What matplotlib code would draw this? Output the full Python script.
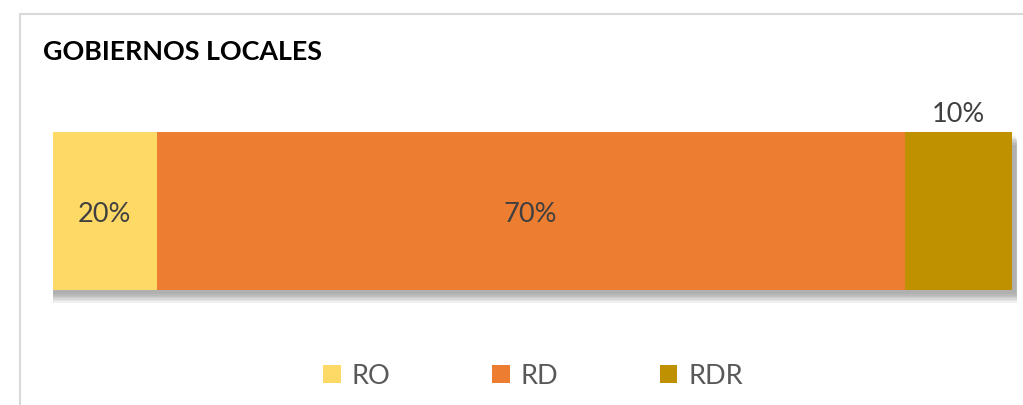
import matplotlib
matplotlib.use("Agg")
import matplotlib.pyplot as plt
import matplotlib.patheffects as pe
from matplotlib.patches import Rectangle, Patch

title = "GOBIERNOS LOCALES"
series = ["RO", "RD", "RDR"]
values = [20, 70, 10]
labels = ["20%", "70%", "10%"]
colors = ["#FFD966", "#ED7D31", "#BF9000"]
axis_min, axis_max = 10.3, 100.5

W, H = 1023, 405
fig = plt.figure(figsize=(W / 100, H / 100), dpi=100)
plt.rcParams['font.family'] = ['Lato', 'DejaVu Sans']

# chart border (goes off the right/bottom edge)
fig.patches.append(Rectangle((20 / W, -0.1), 1.1, 1 - 14 / H + 0.1, transform=fig.transFigure,
                             fill=False, edgecolor="#d9d9d9", linewidth=1.5))

fig.text(43 / W, 1 - 52 / H, title, fontsize=19.4, fontweight="bold", color="black",
         va="center", ha="left")

ax = fig.add_axes([53 / W, 1 - 311 / H, (1017 - 53) / W, 200 / H])
ax.set_xlim(axis_min, axis_max)
ax.set_ylim(-0.5, 0.5)
ax.axis("off")

# soft drop shadow: a few faint layers
shadow = [pe.SimplePatchShadow(offset=(3 + k, -3 - k), shadow_rgbFace="#606060", alpha=0.09)
          for k in range(0, 7)] + [pe.Normal()]

left = 0
for name, v, lab, c in zip(series, values, labels, colors):
    b = ax.barh(0, v, left=left, height=0.79, color=c, label=name)
    for p in b:
        p.set_path_effects(shadow)
    vis_l = max(left, axis_min)
    vis_r = min(left + v, axis_max)
    cx = (vis_l + vis_r) / 2
    if v >= 15:
        ax.text(cx, -0.02, lab, ha="center", va="center", fontsize=19.5, color="#404040")
    else:
        ax.text(cx, 0.395 + 0.025, lab, ha="center", va="bottom", fontsize=19.5, color="#404040")
    left += v

handles = [Patch(facecolor=c, label=s) for s, c in zip(series, colors)]
fig.legend(handles=handles, loc="center", bbox_to_anchor=(533 / W, 1 - 376 / H), ncol=3,
           frameon=False, fontsize=19.5, labelcolor="#595959", handlelength=0.65, handleheight=0.65,
           handletextpad=0.4, columnspacing=3.75)

fig.savefig("out.png", dpi=100)
